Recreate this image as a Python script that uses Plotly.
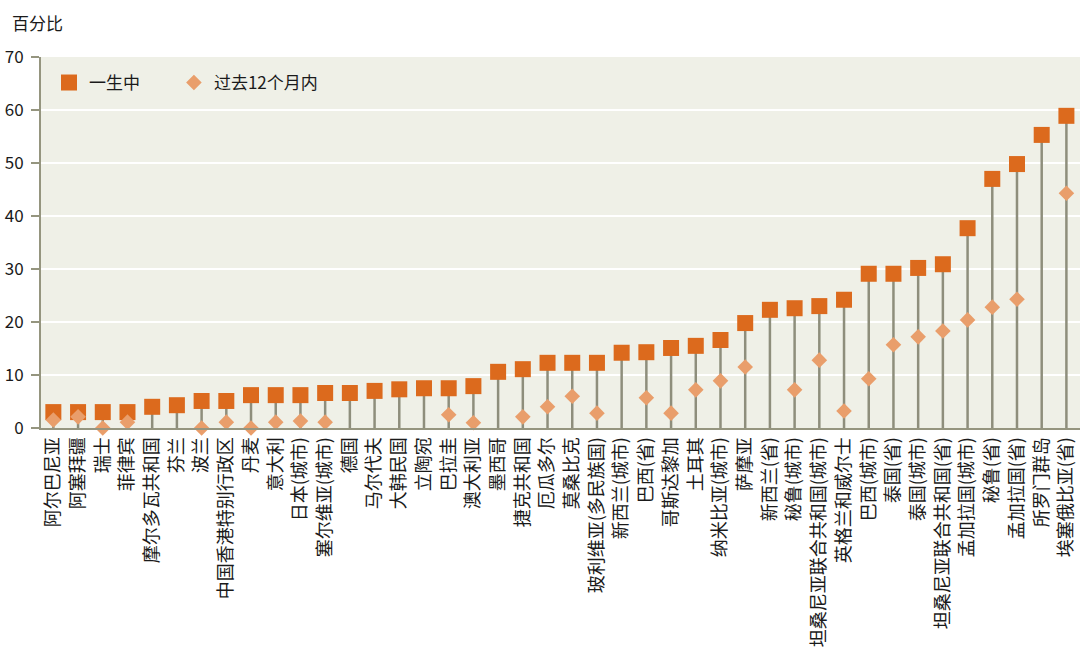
import plotly.graph_objects as go

categories = [
    "阿尔巴尼亚", "阿塞拜疆", "瑞士", "菲律宾", "摩尔多瓦共和国", "芬兰", "波兰",
    "中国香港特别行政区", "丹麦", "意大利", "日本(城市)", "塞尔维亚(城市)", "德国",
    "马尔代夫", "大韩民国", "立陶宛", "巴拉圭", "澳大利亚", "墨西哥", "捷克共和国",
    "厄瓜多尔", "莫桑比克", "玻利维亚(多民族国)", "新西兰(城市)", "巴西(省)",
    "哥斯达黎加", "土耳其", "纳米比亚(城市)", "萨摩亚", "新西兰(省)", "秘鲁(城市)",
    "坦桑尼亚联合共和国(城市)", "英格兰和威尔士", "巴西(城市)", "泰国(省)",
    "泰国(城市)", "坦桑尼亚联合共和国(省)", "孟加拉国(城市)", "秘鲁(省)",
    "孟加拉国(省)", "所罗门群岛", "埃塞俄比亚(省)",
]

lifetime = [
    3.0, 3.0, 3.0, 3.0, 4.0, 4.3, 5.1, 5.1, 6.2, 6.2, 6.2, 6.6, 6.6, 7.0, 7.3,
    7.5, 7.5, 7.9, 10.6, 11.1, 12.3, 12.3, 12.3, 14.2, 14.3, 15.1, 15.5, 16.6,
    19.8, 22.3, 22.6, 23.0, 24.2, 29.1, 29.1, 30.2, 30.9, 37.7, 47.0, 49.8,
    55.3, 58.9,
]

past12 = [
    1.5, 2.1, 0.0, 1.1, None, None, 0.0, 1.1, 0.0, 1.1, 1.3, 1.1, None, None,
    None, None, 2.5, 1.0, None, 2.1, 4.0, 6.0, 2.8, None, 5.7, 2.8, 7.2, 8.9,
    11.5, None, 7.2, 12.8, 3.2, 9.3, 15.7, 17.2, 18.3, 20.4, 22.8, 24.3, None,
    44.3,
]

y_ticks = [0, 10, 20, 30, 40, 50, 60, 70]

FONT = "Noto Sans CJK SC"
SQUARE = "#DC6A1D"
DIAMOND = "#E99E6B"
STEM = "#8E8E7C"
AXIS = "#95957F"
TEXT = "#1A1A1A"

idx = list(range(len(categories)))

stem_x, stem_y = [], []
for i, v in zip(idx, lifetime):
    stem_x += [i, i, None]
    stem_y += [0, v, None]

fig = go.Figure()
fig.add_trace(go.Scatter(
    x=stem_x, y=stem_y, mode="lines",
    line=dict(color=STEM, width=2.5),
    showlegend=False, hoverinfo="skip",
))
fig.add_trace(go.Scatter(
    x=idx, y=lifetime, mode="markers", name="一生中\u3000\u2002\u2009",
    marker=dict(symbol="square", size=16, color=SQUARE),
    cliponaxis=False,
))
fig.add_trace(go.Scatter(
    x=idx, y=past12, mode="markers", name="过去12个月内",
    marker=dict(symbol="diamond", size=12, color=DIAMOND),
    cliponaxis=False,
))

fig.update_layout(
    width=1089, height=651,
    margin=dict(l=41, r=9, t=57, b=223),
    paper_bgcolor="white",
    plot_bgcolor="#EFF0E7",
    font=dict(family=FONT, size=17, color=TEXT),
    legend=dict(
        orientation="h", x=0.0077, xanchor="left", y=0.93, yanchor="middle",
        bgcolor="rgba(0,0,0,0)", font=dict(size=17, family=FONT, color=TEXT),
    ),
    annotations=[dict(
        text="百分比", xref="paper", yref="paper",
        x=-0.03, y=1.094, xanchor="left", yanchor="middle",
        showarrow=False, font=dict(size=17, family=FONT, color=TEXT),
    )],
)

fig.update_xaxes(
    tickmode="array", tickvals=idx, ticktext=categories, automargin=False,
    tickangle=-90, tickfont=dict(size=18, family=FONT, color=TEXT),
    range=[-0.5, 41.55], showgrid=False, zeroline=False,
    showline=True, linecolor=AXIS, linewidth=2, ticks="",
)
fig.update_yaxes(
    range=[0, 70], tickvals=y_ticks, showgrid=True, gridcolor="white",
    gridwidth=2, zeroline=False, showline=True, linecolor=AXIS, linewidth=2,
    ticks="outside", ticklen=8, tickcolor=AXIS, tickwidth=2, automargin=False,
    ticklabelstandoff=4,
    tickfont=dict(size=17, family=FONT, color=TEXT),
)

fig.write_html(
    "out.html",
    config={"displayModeBar": False},
    post_script="document.body.style.margin='0';document.body.style.overflow='hidden';",
)
